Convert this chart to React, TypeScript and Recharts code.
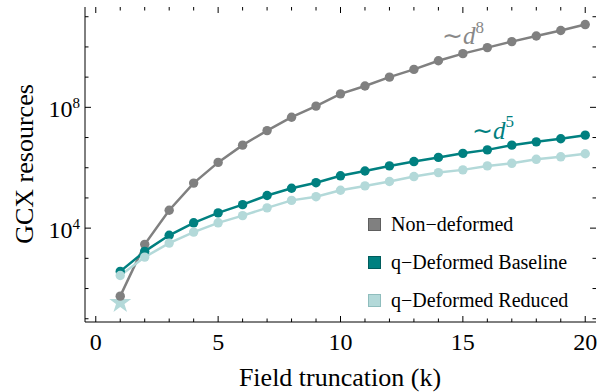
import React from 'react';
import { ComposedChart, Line, Scatter, XAxis, YAxis, Legend, Customized, Symbols } from 'recharts';

// field truncation k
const K = [1, 2, 3, 4, 5, 6, 7, 8, 9, 10, 11, 12, 13, 14, 15, 16, 17, 18, 19, 20];

// GCX resources
const NON_DEFORMED = [
  5.6e1, 2.9e3, 3.9e4, 3.1e5, 1.5e6, 5.6e6, 1.7e7, 4.7e7, 1.1e8, 2.8e8,
  5.1e8, 1.0e9, 1.8e9, 3.5e9, 6.0e9, 9.5e9, 1.5e10, 2.3e10, 3.5e10, 5.5e10,
];
const Q_BASELINE = [
  3.7e2, 1.7e3, 5.8e3, 1.5e4, 3.2e4, 6.0e4, 1.2e5, 2.1e5, 3.2e5, 5.4e5,
  7.8e5, 1.15e6, 1.6e6, 2.2e6, 3.0e6, 3.9e6, 5.6e6, 7.2e6, 9.1e6, 1.2e7,
];
const Q_REDUCED = [
  2.7e2, 1.1e3, 3.2e3, 7.4e3, 1.5e4, 2.6e4, 4.7e4, 8.3e4, 1.1e5, 1.8e5,
  2.5e5, 3.5e5, 5.1e5, 6.9e5, 8.5e5, 1.15e6, 1.4e6, 1.9e6, 2.3e6, 2.9e6,
];
const STAR_K = [1];
const STAR_VALUE = [3.4e1];

const X_TICKS = [0, 1, 2, 3, 4, 5, 6, 7, 8, 9, 10, 11, 12, 13, 14, 15, 16, 17, 18, 19, 20];
const X_LABELED = [0, 5, 10, 15, 20];
const Y_TICKS = [1e1, 1e2, 1e3, 1e4, 1e5, 1e6, 1e7, 1e8, 1e9, 1e10, 1e11];
const Y_LABELED_EXP = [4, 8];

const X_DOMAIN = [-0.44, 20.44];
const Y_DOMAIN = [7.8, 2.1e11];

const SERIES = [
  { key: 'non', name: 'Non\u2212deformed', color: '#808080', edge: '#5e5e5e' },
  { key: 'base', name: 'q\u2212Deformed Baseline', color: '#008080', edge: '#005c5c' },
  { key: 'red', name: 'q\u2212Deformed Reduced', color: '#b3d9d9', edge: '#8fbdbd' },
];

const FONT = '"Liberation Serif", "Times New Roman", serif';
const PLOT_TOP = 7;
const PLOT_BOTTOM = 322;
const PLOT_LEFT = 85;
const PLOT_RIGHT = 596;

const data = K.map((k, i) => ({
  k,
  non: NON_DEFORMED[i],
  base: Q_BASELINE[i],
  red: Q_REDUCED[i],
}));
const starData = STAR_K.map((k, i) => ({ k, star: STAR_VALUE[i] }));

const XTick = (props: any) => {
  const { x, payload } = props;
  const v = payload.value;
  const major = X_LABELED.includes(v);
  const len = major ? 6 : 3.5;
  return (
    <g>
      <line x1={x} x2={x} y1={PLOT_BOTTOM} y2={PLOT_BOTTOM - len} stroke="#000" />
      <line x1={x} x2={x} y1={PLOT_TOP} y2={PLOT_TOP + len} stroke="#000" />
      {major && (
        <text x={x} y={350} textAnchor="middle" fill="#000" style={{ fontFamily: FONT, fontSize: 24 }}>
          {v}
        </text>
      )}
    </g>
  );
};

const YTick = (props: any) => {
  const { y, payload } = props;
  const exp = Math.round(Math.log10(payload.value));
  const major = Y_LABELED_EXP.includes(exp);
  const len = major ? 6 : 3.5;
  return (
    <g>
      <line x1={PLOT_LEFT} x2={PLOT_LEFT + len} y1={y} y2={y} stroke="#000" />
      <line x1={PLOT_RIGHT} x2={PLOT_RIGHT - len} y1={y} y2={y} stroke="#000" />
      {major && (
        <text x={80} y={y + 9.4} textAnchor="end" fill="#000" style={{ fontFamily: FONT, fontSize: 24 }}>
          10
          <tspan dy={-9} style={{ fontSize: 15 }}>{exp}</tspan>
        </text>
      )}
    </g>
  );
};

const renderLegend = () => (
  <div style={{ fontFamily: FONT, fontSize: 20, color: '#000' }}>
    {SERIES.map((s) => (
      <div key={s.key} style={{ display: 'flex', alignItems: 'center', height: 38 }}>
        <span
          style={{
            display: 'inline-block',
            width: 11,
            height: 11,
            background: s.color,
            border: `1px solid ${s.edge}`,
            marginRight: 10,
          }}
        />
        <span style={{ whiteSpace: 'nowrap' }}>{s.name}</span>
      </div>
    ))}
  </div>
);

const Annotations = () => (
  <g style={{ fontFamily: FONT }}>
    <text x={442} y={44} fill="#888888" style={{ fontFamily: FONT, fontSize: 25 }}>
      {'\u223C'}
      <tspan style={{ fontStyle: 'italic' }}>d</tspan>
      <tspan dy={-11} style={{ fontSize: 17 }}>8</tspan>
    </text>
    <text x={472} y={139} fill="#008080" style={{ fontFamily: FONT, fontSize: 25 }}>
      {'\u223C'}
      <tspan style={{ fontStyle: 'italic' }}>d</tspan>
      <tspan dy={-12} style={{ fontSize: 17 }}>5</tspan>
    </text>
    <text x={340} y={386} textAnchor="middle" fill="#000" style={{ fontFamily: FONT, fontSize: 26 }}>
      Field truncation (k)
    </text>
    <text
      x={33}
      y={164}
      textAnchor="middle"
      fill="#000"
      transform="rotate(-90, 33, 164)"
      style={{ fontFamily: FONT, fontSize: 26 }}
    >
      GCX resources
    </text>
  </g>
);

const StarShape = (props: any) => (
  <Symbols type="star" size={150} cx={props.cx} cy={props.cy} fill="#b3d9d9" />
);

export default function App() {
  return (
    <div style={{ position: 'absolute', left: 0, top: 0, width: 600, height: 392 }}>
      <ComposedChart
        width={600}
        height={392}
        data={data}
        margin={{ top: PLOT_TOP, right: 4, left: 0, bottom: 0 }}
        style={{ fontFamily: FONT }}
      >
        <XAxis
          xAxisId="bottom"
          dataKey="k"
          type="number"
          domain={X_DOMAIN}
          allowDataOverflow
          ticks={X_TICKS}
          interval={0}
          height={70}
          tickLine={false}
          tick={XTick}
          axisLine={{ stroke: '#000' }}
        />
        <XAxis
          xAxisId="top"
          orientation="top"
          type="number"
          domain={X_DOMAIN}
          allowDataOverflow
          height={0}
          tick={false}
          tickLine={false}
          axisLine={{ stroke: '#000' }}
        />
        <YAxis
          yAxisId="left"
          type="number"
          scale="log"
          domain={Y_DOMAIN}
          allowDataOverflow
          ticks={Y_TICKS}
          interval={0}
          width={85}
          tickLine={false}
          tick={YTick}
          axisLine={{ stroke: '#000' }}
        />
        <YAxis
          yAxisId="right"
          orientation="right"
          type="number"
          scale="log"
          domain={Y_DOMAIN}
          allowDataOverflow
          width={0}
          tick={false}
          tickLine={false}
          axisLine={{ stroke: '#000' }}
        />
        {SERIES.map((s) => (
          <Line
            key={s.key}
            xAxisId="bottom"
            yAxisId="left"
            dataKey={s.key}
            name={s.name}
            type="linear"
            stroke={s.color}
            strokeWidth={2.5}
            dot={{ r: 4.7, fill: s.color, stroke: 'none' }}
            activeDot={false}
            isAnimationActive={false}
          />
        ))}
        <Scatter
          xAxisId="bottom"
          yAxisId="left"
          data={starData}
          dataKey="star"
          shape={StarShape}
          isAnimationActive={false}
        />
        <Legend
          layout="vertical"
          align="center"
          verticalAlign="middle"
          content={renderLegend}
          wrapperStyle={{ left: 368, top: 205, width: 228 }}
        />
        <Customized component={Annotations} />
      </ComposedChart>
    </div>
  );
}
